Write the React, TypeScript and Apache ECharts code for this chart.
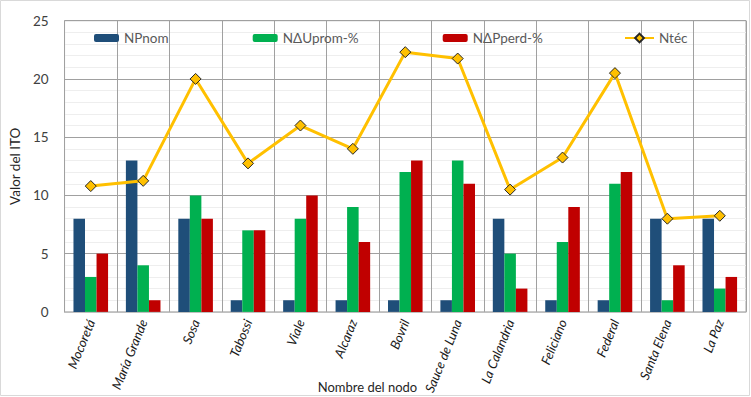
import React, { useEffect, useRef } from "react";
import * as echarts from "echarts";

const nodos = [
  "Mocoretá", "María Grande", "Sosa", "Tabossi", "Viale", "Alcaraz", "Bovril",
  "Sauce de Luna", "La Calandria", "Feliciano", "Federal", "Santa Elena", "La Paz",
];
const npNom = [8, 13, 8, 1, 1, 1, 1, 1, 8, 1, 1, 8, 8];
const nduProm = [3, 4, 10, 7, 8, 9, 12, 13, 5, 6, 11, 1, 2];
const ndpPerd = [5, 1, 8, 7, 10, 6, 13, 11, 2, 9, 12, 4, 3];
const nTec = [10.8, 11.25, 20, 12.75, 16, 14, 22.3, 21.75, 10.5, 13.25, 20.5, 8, 8.25];
const yTicks = [0, 5, 10, 15, 20, 25];

const FONT = "Lato, 'Noto Sans', sans-serif";
const legendText = { color: "#595959", fontSize: 13.5, fontFamily: FONT };

export default function App() {
  const ref = useRef<HTMLDivElement>(null);

  useEffect(() => {
    document.body.style.margin = "0";
    if (!ref.current) return;
    const chart = echarts.init(ref.current, undefined, { renderer: "svg" });
    const legendBase = {
      top: 31,
      padding: 0,
      itemWidth: 25,
      itemHeight: 8,
      textStyle: legendText,
      itemGap: 0,
    };
    chart.setOption({
      animation: false,
      backgroundColor: "#ffffff",
      legend: [
        { ...legendBase, left: 94, data: ["NPnom"] },
        { ...legendBase, left: 252.7, data: ["NΔUprom-%"] },
        { ...legendBase, left: 442.7, data: ["NΔPperd-%"] },
        { ...legendBase, left: 624, itemWidth: 29, itemHeight: 11, data: ["Ntéc"] },
      ],
      grid: { left: 59.5, right: 5, top: 20.7, bottom: 397 - 312.7, show: true, borderColor: "#a6a6a6", borderWidth: 1 },
      xAxis: {
        type: "category",
        data: nodos,
        boundaryGap: true,
        axisLine: { show: true, lineStyle: { color: "#bfbfbf" } },
        axisTick: { show: false },
        splitLine: { show: true, lineStyle: { color: "#a0a0a0", width: 1 } },
        axisLabel: {
          rotate: 68,
          interval: 0,
          margin: 8,
          fontStyle: "italic",
          fontSize: 13,
          color: "#1a1a1a",
          fontFamily: FONT,
        },
      },
      yAxis: {
        type: "value",
        min: yTicks[0],
        max: yTicks[yTicks.length - 1],
        interval: 5,
        name: "Valor del ITO",
        nameLocation: "middle",
        nameGap: 31,
        nameTextStyle: { color: "#262626", fontSize: 13.5, fontFamily: FONT },
        axisLine: { show: false },
        axisTick: { show: false },
        axisLabel: { color: "#404040", fontSize: 13.5, fontFamily: FONT, margin: 16 },
        splitLine: { lineStyle: { color: "#a0a0a0", width: 1 } },
        minorTick: { show: false, splitNumber: 5 },
        minorSplitLine: { show: true, lineStyle: { color: "#eeeeee", width: 1 } },
      },
      series: [
        {
          name: "NPnom",
          type: "bar",
          data: npNom,
          barGap: "0%",
          barCategoryGap: "34%",
          itemStyle: { color: "#1F4E79" },
        },
        {
          name: "NΔUprom-%",
          type: "bar",
          data: nduProm,
          itemStyle: { color: "#00B050" },
        },
        {
          name: "NΔPperd-%",
          type: "bar",
          data: ndpPerd,
          itemStyle: { color: "#C00000" },
        },
        {
          name: "Ntéc",
          type: "line",
          data: nTec,
          symbol: "diamond",
          symbolSize: 11,
          lineStyle: { color: "#FFC000", width: 3 },
          itemStyle: { color: "#FFC000", borderColor: "#262626", borderWidth: 1 },
          z: 5,
        },
      ],
      graphic: [
        {
          type: "rect",
          shape: { x: 0.5, y: 0.5, width: 749, height: 395 },
          style: { fill: "none", stroke: "#d9d9d9", lineWidth: 1 },
          silent: true,
        },
        {
          type: "text",
          left: 317.7,
          top: 380,
          style: { text: "Nombre del nodo", fill: "#262626", fontSize: 13, fontFamily: FONT },
        },
      ],
    });
    return () => chart.dispose();
  }, []);

  return <div ref={ref} style={{ width: 751, height: 397 }} />;
}
